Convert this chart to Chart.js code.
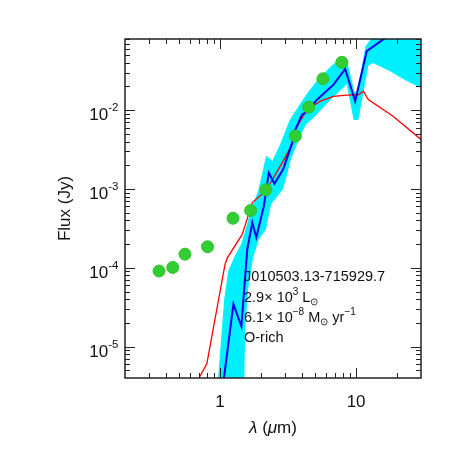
<!DOCTYPE html>
<html><head><meta charset="utf-8">
<script src="https://cdn.jsdelivr.net/npm/chart.js@4"></script>
<style>html,body{margin:0;padding:0;background:#fff}canvas{display:block}</style>
</head><body>
<canvas id="c" width="458" height="458"></canvas>
<script>
// ---- data ----
const photWavelength = [0.356, 0.449, 0.552, 0.809, 1.245, 1.677, 2.17, 3.58, 4.48, 5.71, 7.86];
const photFlux       = [9.1e-5, 1.01e-4, 1.49e-4, 1.85e-4, 4.26e-4, 5.33e-4, 9.8e-4, 4.69e-3, 1.09e-2, 2.5e-2, 4.05e-2];

const redWavelength = [0.66, 0.707, 0.799, 1.088, 1.133, 1.458, 1.726, 2.10, 2.35, 2.91, 3.39, 3.58, 4.36, 5.46, 6.82, 8.55, 10.4, 11.3, 12.3, 18.7, 30];
const redFlux       = [2.5e-6, 4.13e-6, 6.04e-6, 1.11e-4, 1.35e-4, 2.67e-4, 6.73e-4, 9.0e-4, 1.2e-3, 2.26e-3, 3.68e-3, 5.7e-3, 1.02e-2, 1.3e-2, 1.5e-2, 1.55e-2, 1.57e-2, 1.74e-2, 1.36e-2, 8.4e-3, 4.26e-3];

const blueWavelength = [1.03, 1.07, 1.253, 1.434, 1.585, 1.726, 1.846, 2.10, 2.28, 2.51, 2.91, 3.39, 3.58, 4.01, 4.24, 5.16, 6.82, 8.31, 9.84, 11.97, 15.8, 30];
const blueFlux       = [2.5e-6, 4.1e-6, 3.47e-5, 1.81e-5, 1.72e-4, 3.76e-4, 2.43e-4, 6.1e-4, 1.61e-3, 1.17e-3, 1.78e-3, 3.87e-3, 5.7e-3, 8.8e-3, 9.3e-3, 1.36e-2, 2.11e-2, 3.34e-2, 1.3e-2, 5.6e-2, 7.9e-2, 0.13];

// outline of the cyan bundle of models (upper edge left->right, lower edge right->left)
const cyanWavelength = [0.2, 0.962, 1.082, 1.158, 1.281, 1.441, 1.568, 1.706, 1.919, 2.088, 2.196, 2.43, 2.785, 3.29, 3.76, 4.24, 5.27, 6.45, 7.63, 8.46, 9.66, 10.33, 11.8, 13.8, 14.97, 30,
                        30, 22.8, 17.7, 13.3, 12.2, 10.33, 9.66, 8.59, 6.45, 4.85, 4.24, 3.76, 3.29, 3.13, 2.875, 2.35, 2.16, 1.919, 1.735, 1.595, 1.516, 1.491, 30];
const cyanFlux       = [1e-8, 2.9e-6, 4.0e-5, 9.08e-5, 1.36e-4, 2.0e-4, 3.27e-4, 5.53e-4, 9.35e-4, 1.78e-3, 2.59e-3, 2.24e-3, 3.68e-3, 7.63e-3, 1.08e-2, 1.49e-2, 2.45e-2, 3.47e-2, 4.51e-2, 4.38e-2, 1.68e-2, 1.68e-2, 6.4e-2, 0.095, 0.12, 0.12,
                        1.94e-2, 2.45e-2, 3.18e-2, 4.02e-2, 3.68e-2, 7.63e-3, 7.63e-3, 2.18e-2, 1.36e-2, 8.09e-3, 6.59e-3, 4.26e-3, 2.38e-3, 1.67e-3, 9.9e-4, 6.4e-4, 3.09e-4, 2.31e-4, 1.36e-4, 5.37e-5, 1.67e-5, 2.9e-6, 1e-8];

const xMajorTicks = [1, 10];
const xMinorTicks = [0.3, 0.4, 0.5, 0.6, 0.7, 0.8, 0.9, 2, 3, 4, 5, 6, 7, 8, 9, 20];
const yMajorTicks = [1e-5, 1e-4, 1e-3, 1e-2];
const yMinorTicks = [5e-6, 6e-6, 7e-6, 8e-6, 9e-6,
                     2e-5, 3e-5, 4e-5, 5e-5, 6e-5, 7e-5, 8e-5, 9e-5,
                     2e-4, 3e-4, 4e-4, 5e-4, 6e-4, 7e-4, 8e-4, 9e-4,
                     2e-3, 3e-3, 4e-3, 5e-3, 6e-3, 7e-3, 8e-3, 9e-3,
                     2e-2, 3e-2, 4e-2, 5e-2, 6e-2, 7e-2, 8e-2];
const xRange = [0.2, 30];
const yRange = [4e-6, 0.08];

const annotationLines = [
  [{t: 'J010503.13-715929.7'}],
  [{t: '2.9\u00d7 10'}, {t: '3', sup: true}, {t: ' L'}, {t: '\u2299', sub: true}],
  [{t: '6.1\u00d7 10'}, {t: '\u22128', sup: true}, {t: ' M'}, {t: '\u2299', sub: true}, {t: ' yr'}, {t: '\u22121', sup: true}],
  [{t: 'O-rich'}]
];
const xTitleParts = [{t: '\u03bb', italic: true}, {t: ' ('}, {t: '\u03bc', italic: true}, {t: 'm)'}];
const yTitle = 'Flux (Jy)';

// ---- drawing ----
const FAMILY = "'Liberation Sans', Arial, Helvetica, sans-serif";
const TEXT = '#111';
const pts = (xs, ys) => xs.map((x, i) => ({x, y: ys[i]}));

function drawRich(ctx, x, y, parts, size, align) {
  let total = 0;
  const items = parts.map(p => {
    const s = (p.sup || p.sub) ? Math.round(size * 0.68) : size;
    const f = (p.italic ? 'italic ' : '') + s + 'px ' + FAMILY;
    ctx.font = f;
    const w = ctx.measureText(p.t).width;
    total += w;
    return {t: p.t, f, w, dy: p.sup ? -size * 0.5 : (p.sub ? size * 0.18 : 0)};
  });
  let cx = align === 'center' ? x - total / 2 : x;
  ctx.textAlign = 'left';
  ctx.textBaseline = 'alphabetic';
  for (const it of items) { ctx.font = it.f; ctx.fillText(it.t, cx, y + it.dy); cx += it.w; }
}

const framePlugin = {
  id: 'frame',
  afterDraw(chart) {
    const {ctx, chartArea: a, scales: {x, y}} = chart;
    ctx.save();
    ctx.strokeStyle = '#222';
    ctx.lineWidth = 1;
    ctx.beginPath();
    const xt = xMajorTicks.map(v => [v, 10]).concat(xMinorTicks.map(v => [v, 5]));
    for (const [v, len] of xt) {
      const px = Math.round(x.getPixelForValue(v)) + 0.5;
      ctx.moveTo(px, a.bottom); ctx.lineTo(px, a.bottom - len);
      ctx.moveTo(px, a.top); ctx.lineTo(px, a.top + len);
    }
    const yt = yMajorTicks.map(v => [v, 10]).concat(yMinorTicks.map(v => [v, 5]));
    for (const [v, len] of yt) {
      const py = Math.round(y.getPixelForValue(v)) + 0.5;
      ctx.moveTo(a.left, py); ctx.lineTo(a.left + len, py);
      ctx.moveTo(a.right, py); ctx.lineTo(a.right - len, py);
    }
    ctx.stroke();
    ctx.lineWidth = 1.5;
    ctx.strokeRect(a.left, a.top, a.right - a.left, a.bottom - a.top);

    ctx.fillStyle = TEXT;
    // y tick labels: 10 with raised exponent
    ctx.textBaseline = 'alphabetic';
    ctx.textAlign = 'left';
    for (const v of yMajorTicks) {
      const py = y.getPixelForValue(v);
      const ex = String(Math.round(Math.log10(v)));
      ctx.font = '11.5px ' + FAMILY;
      const sw = ctx.measureText(ex).width;
      ctx.font = '17px ' + FAMILY;
      const mw = ctx.measureText('10').width;
      const right = a.left - 6.5;
      ctx.fillText('10', right - sw - mw, py + 10);
      ctx.font = '11.5px ' + FAMILY;
      ctx.fillText(ex, right - sw, py + 1);
    }

    const tx = 244, baselines = [281, 302, 322, 342];
    annotationLines.forEach((parts, i) => drawRich(ctx, tx, baselines[i], parts, 14.5, 'left'));
    drawRich(ctx, (a.left + a.right) / 2, 433, xTitleParts, 17, 'center');
    ctx.restore();
  }
};

new Chart(document.getElementById('c'), {
  type: 'line',
  data: {
    datasets: [
      {label: 'photometry', data: pts(photWavelength, photFlux), showLine: false,
       pointRadius: 6, pointBackgroundColor: '#32cd32', pointBorderColor: '#2fc22f', pointBorderWidth: 1, clip: 0},
      {label: 'best fit', data: pts(blueWavelength, blueFlux), borderColor: 'rgb(0,0,235)', borderWidth: 2,
       pointRadius: 0, fill: false, tension: 0, clip: 0},
      {label: 'photosphere', data: pts(redWavelength, redFlux), borderColor: 'rgb(255,0,0)', borderWidth: 1.3,
       pointRadius: 0, fill: false, tension: 0, clip: 0},
      {label: 'models', data: pts(cyanWavelength, cyanFlux), borderColor: 'rgb(0,240,255)', borderWidth: 1,
       backgroundColor: 'rgb(0,240,255)', pointRadius: 0, fill: 'shape', tension: 0, clip: 0}
    ]
  },
  options: {
    responsive: false, animation: false, devicePixelRatio: 1,
    layout: {padding: {left: 0, right: 37, top: 39, bottom: 0}},
    plugins: {legend: {display: false}, tooltip: {enabled: false}},
    scales: {
      x: {
        type: 'logarithmic', min: xRange[0], max: xRange[1], position: 'bottom',
        grid: {display: false, drawTicks: false}, border: {display: false},
        ticks: {autoSkip: false, maxRotation: 0, padding: 14, color: TEXT, font: {family: FAMILY, size: 17},
                callback: v => String(v)},
        afterBuildTicks: s => { s.ticks = xMajorTicks.map(v => ({value: v})); },
        afterFit: s => { s.height = 80; },
        title: {display: false}
      },
      y: {
        type: 'logarithmic', min: yRange[0], max: yRange[1], position: 'left',
        grid: {display: false, drawTicks: false}, border: {display: false},
        ticks: {display: false},
        afterBuildTicks: s => { s.ticks = yMajorTicks.map(v => ({value: v})); },
        afterFit: s => { s.width = 125; },
        title: {display: true, text: yTitle, color: TEXT, font: {family: FAMILY, size: 17}, padding: {top: 55, bottom: 0}}
      }
    }
  },
  plugins: [framePlugin]
});
</script>
</body></html>
